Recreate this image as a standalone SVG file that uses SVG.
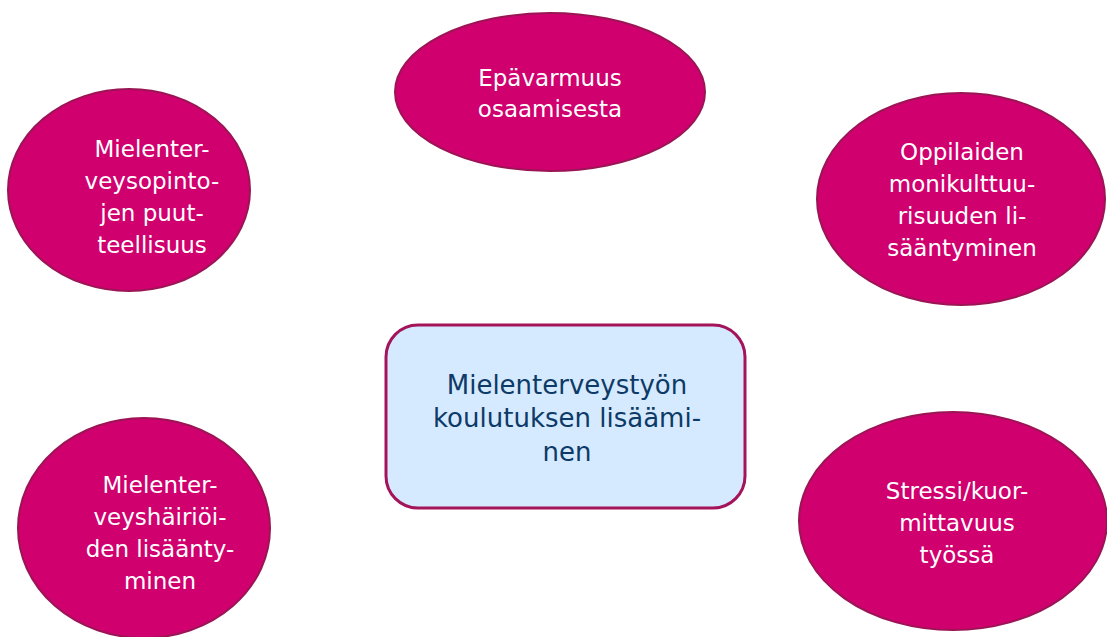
<svg xmlns="http://www.w3.org/2000/svg" width="1107" height="637" viewBox="0 0 1107 637">
<style>
.e{fill:#d0006f;stroke:#9b1555;stroke-width:2}
.b{fill:#d6eaff;stroke:#a3145a;stroke-width:3}
.t{font-family:"DejaVu Sans","Liberation Sans",sans-serif;font-size:23px;fill:#ffffff;text-anchor:middle}
.c{font-family:"DejaVu Sans","Liberation Sans",sans-serif;font-size:26px;fill:#0d3a66;text-anchor:middle}
</style>
<rect width="1107" height="637" fill="#ffffff"/>
<g id="connectors"></g>
<g id="n-top">
<ellipse class="e" cx="550" cy="92" rx="155" ry="79"/>
<text class="t" x="550" y="86">Epävarmuus</text>
<text class="t" x="550" y="117">osaamisesta</text>
</g>
<g id="n-topleft">
<ellipse class="e" cx="129" cy="190" rx="121" ry="101"/>
<text class="t" x="152" y="157">Mielenter-</text>
<text class="t" x="152" y="189">veysopinto-</text>
<text class="t" x="152" y="221">jen puut-</text>
<text class="t" x="152" y="253">teellisuus</text>
</g>
<g id="n-topright">
<ellipse class="e" cx="961" cy="199" rx="144" ry="106"/>
<text class="t" x="962" y="160">Oppilaiden</text>
<text class="t" x="962" y="192">monikulttuu-</text>
<text class="t" x="962" y="224">risuuden li-</text>
<text class="t" x="962" y="256">sääntyminen</text>
</g>
<g id="n-center">
<rect class="b" x="386" y="325" width="359" height="183" rx="32"/>
<text class="c" x="567" y="394">Mielenterveystyön</text>
<text class="c" x="567" y="427">koulutuksen lisäämi-</text>
<text class="c" x="567" y="461">nen</text>
</g>
<g id="n-bottomleft">
<ellipse class="e" cx="144" cy="528" rx="126" ry="110"/>
<text class="t" x="160" y="493">Mielenter-</text>
<text class="t" x="160" y="525">veyshäiriöi-</text>
<text class="t" x="160" y="557">den lisäänty-</text>
<text class="t" x="160" y="589">minen</text>
</g>
<g id="n-bottomright">
<ellipse class="e" cx="953" cy="521" rx="154" ry="109"/>
<text class="t" x="957" y="499">Stressi/kuor-</text>
<text class="t" x="957" y="531">mittavuus</text>
<text class="t" x="957" y="563">työssä</text>
</g>
</svg>
